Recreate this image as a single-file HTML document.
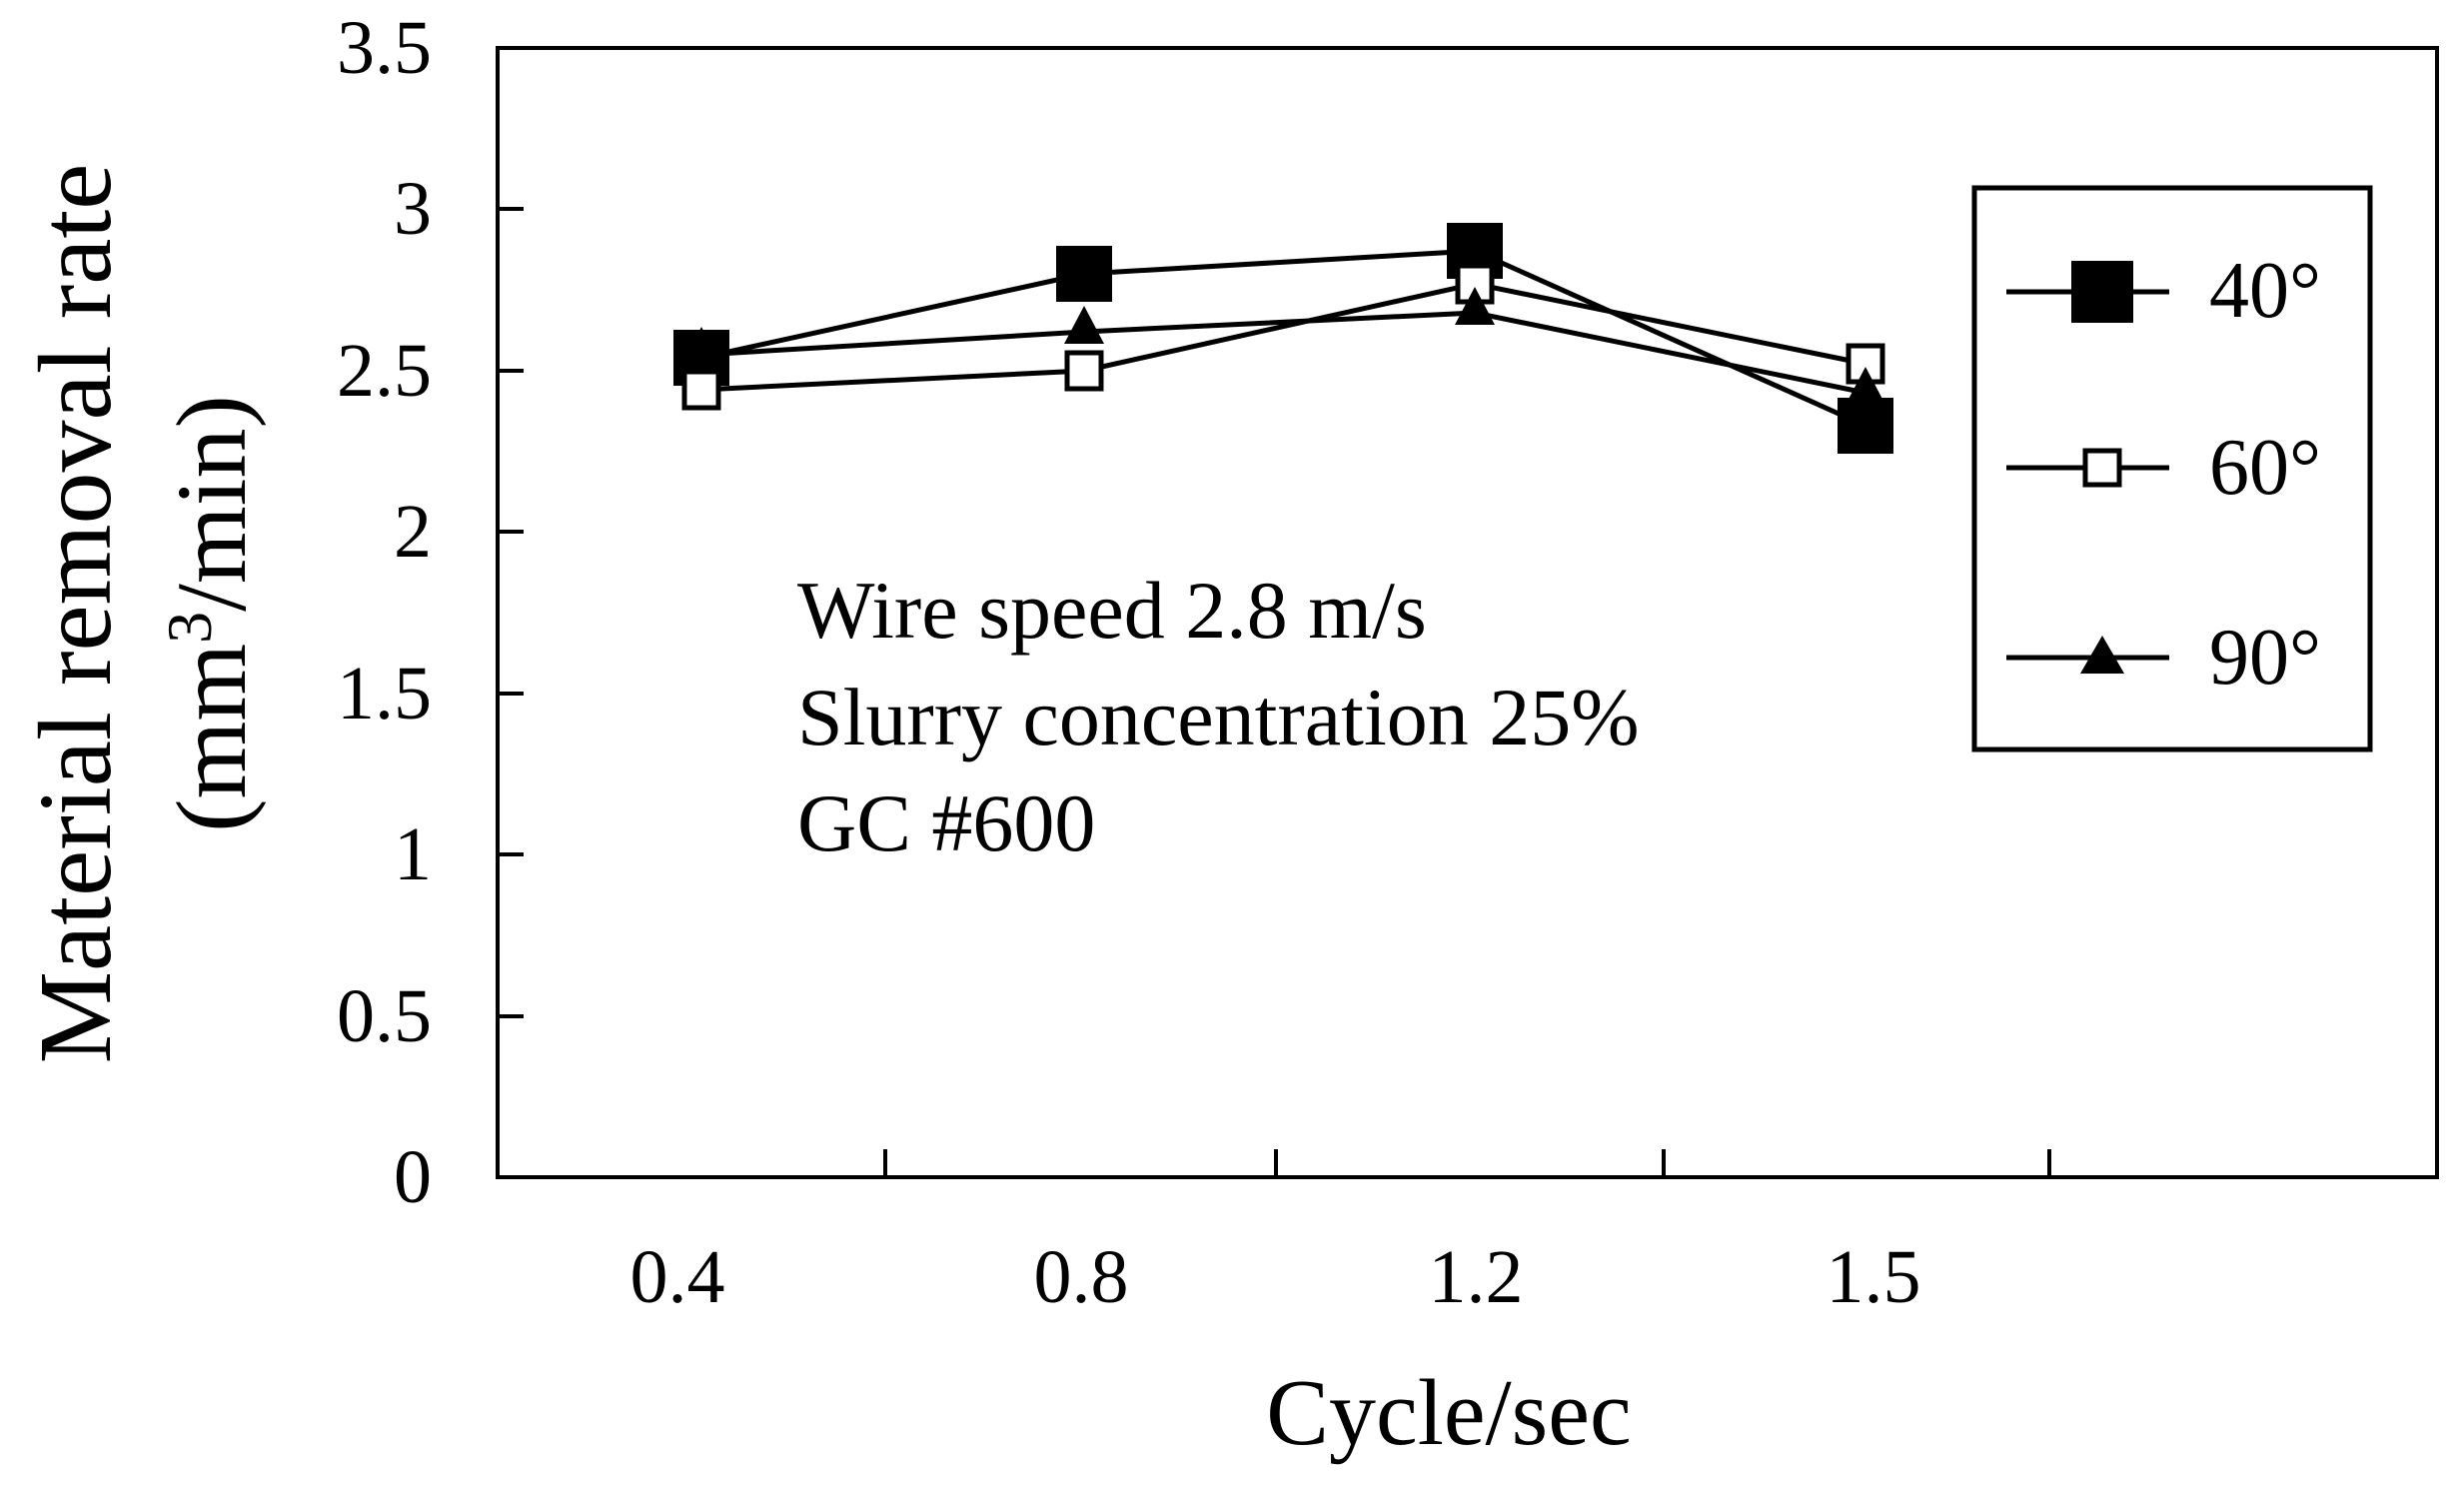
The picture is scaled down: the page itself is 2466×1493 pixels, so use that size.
<!DOCTYPE html>
<html><head><style>body{margin:0;background:#fff}</style></head><body>
<svg width="2466" height="1488" xmlns="http://www.w3.org/2000/svg" font-family="Liberation Serif, serif">
<rect width="2466" height="1488" fill="#fff"/>
<rect x="498" y="48" width="1941" height="1130" fill="none" stroke="#000" stroke-width="4"/>
<g stroke="#000" stroke-width="4">
<line x1="886" y1="1178" x2="886" y2="1150"/><line x1="1277" y1="1178" x2="1277" y2="1150"/>
<line x1="1665" y1="1178" x2="1665" y2="1150"/><line x1="2051" y1="1178" x2="2051" y2="1150"/>
<line x1="498" y1="209" x2="524" y2="209"/><line x1="498" y1="371" x2="524" y2="371"/>
<line x1="498" y1="532" x2="524" y2="532"/><line x1="498" y1="694" x2="524" y2="694"/>
<line x1="498" y1="855" x2="524" y2="855"/><line x1="498" y1="1017" x2="524" y2="1017"/>
</g>
<g font-size="76" text-anchor="end">
<text x="432" y="73">3.5</text><text x="432" y="234">3</text><text x="432" y="396">2.5</text>
<text x="432" y="557">2</text><text x="432" y="719">1.5</text><text x="432" y="880">1</text>
<text x="432" y="1042">0.5</text><text x="432" y="1203">0</text>
</g>
<g font-size="76" text-anchor="middle">
<text x="678" y="1303">0.4</text><text x="1082" y="1303">0.8</text><text x="1477" y="1303">1.2</text><text x="1875" y="1303">1.5</text>
</g>
<text x="1450" y="1445" font-size="94" text-anchor="middle">Cycle/sec</text>
<text transform="translate(110,614) rotate(-90)" font-size="104" text-anchor="middle">Material removal rate</text>
<text transform="translate(245,614) rotate(-90)" font-size="100" text-anchor="middle">(mm<tspan dy="-34" font-size="64">3</tspan><tspan dy="34">/min)</tspan></text>
<g font-size="82">
<text x="798" y="638">Wire speed 2.8 m/s</text>
<text x="798" y="745">Slurry concentration 25%</text>
<text x="798" y="851">GC #600</text>
</g>
<g fill="none" stroke="#000" stroke-width="5">
<polyline points="702,358 1085,274 1476,251 1867,426"/>
<polyline points="702,390 1085,371 1476,284 1867,364"/>
<polyline points="702,355 1085,332 1476,313 1867,393"/>
</g>
<g fill="#000">
<rect x="674" y="330" width="56" height="56"/>
<rect x="1057" y="246" width="56" height="56"/>
<rect x="1448" y="223" width="56" height="56"/>
<rect x="1839" y="398" width="56" height="56"/>
</g>
<g fill="#fff" stroke="#000" stroke-width="5">
<rect x="685" y="372" width="34" height="36"/>
<rect x="1068" y="353" width="34" height="36"/>
<rect x="1459" y="266" width="34" height="36"/>
<rect x="1850" y="346" width="34" height="36"/>
</g>
<g fill="#000">
<polygon points="702,327 722,365 682,365"/>
<polygon points="1085,306 1105,344 1065,344"/>
<polygon points="1476,287 1496,325 1456,325"/>
<polygon points="1867,367 1887,405 1847,405"/>
</g>
<rect x="1976" y="188" width="396" height="562" fill="none" stroke="#000" stroke-width="5"/>
<g stroke="#000" stroke-width="5">
<line x1="2008" y1="292" x2="2171" y2="292"/><line x1="2008" y1="468" x2="2171" y2="468"/><line x1="2008" y1="658" x2="2171" y2="658"/>
</g>
<rect x="2073" y="261" width="62" height="62" fill="#000"/>
<rect x="2087" y="451" width="34" height="34" fill="#fff" stroke="#000" stroke-width="5"/>
<polygon points="2104,636 2126,674 2082,674" fill="#000"/>
<g font-size="80">
<text x="2211" y="317">40°</text><text x="2211" y="494">60°</text><text x="2211" y="684">90°</text>
</g>
</svg>
</body></html>
